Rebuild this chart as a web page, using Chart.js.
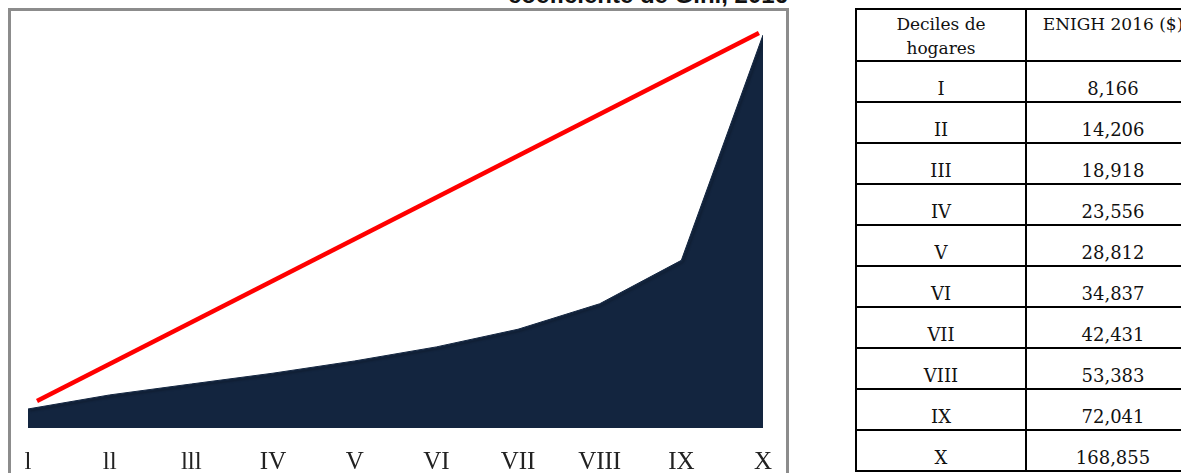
<!DOCTYPE html>
<html lang="es">
<head>
<meta charset="utf-8">
<script src="https://cdn.jsdelivr.net/npm/chart.js@4.4.1/dist/chart.umd.min.js"></script>
<style>
  html, body { margin: 0; padding: 0; background: #fff; overflow: hidden; width: 1181px; height: 473px; }
  #title {
    position: absolute; right: 393px; top: -17px;
    font: bold 24px "Liberation Sans", Arial, sans-serif; color: #111; white-space: nowrap; line-height: 1;
  }
  #frame {
    position: absolute; left: 8px; top: 8px; width: 781px; height: 520px;
    border: 3px solid #8c8c8c; box-sizing: border-box;
  }
  #wrap { position: absolute; left: 0; top: 0; width: 800px; height: 511px; }
  #tabla {
    position: absolute; left: 855px; top: 8px; width: 340px; table-layout: fixed;
    border-collapse: collapse;
    font: 18px "DejaVu Serif", "Liberation Serif", serif; color: #111;
  }
  #tabla td, #tabla th {
    border: 2px solid #000; text-align: center; font-weight: normal;
    vertical-align: bottom; padding: 0 0 3px 0; height: 36px; line-height: 18px;
  }
  #tabla th { vertical-align: top; height: 48px; padding: 2px 0 0 0; line-height: 24px; font-size: 17px; }
  #tabla .c1 { width: 168px; }
  #tabla .c2 { width: 172px; }
</style>
</head>
<body>
<div id="title">coeficiente de Gini, 2016</div>
<div id="frame"></div>
<div id="wrap"><canvas id="lorenz"></canvas></div>
<table id="tabla"></table>

<script>
// ejes y datos
const axisLabels = ['l', 'll', 'lll', 'IV', 'V', 'VI', 'VII', 'VIII', 'IX', 'X'];
const deciles = ['I', 'II', 'III', 'IV', 'V', 'VI', 'VII', 'VIII', 'IX', 'X'];
const ingreso = [8166, 14206, 18918, 23556, 28812, 34837, 42431, 53383, 72041, 168855];
// recta de igualdad (extremos)
const igualdadX = [0.11, 8.95];
const igualdadY = [11600, 169700];
const tableHeader = ['Deciles de<br>hogares', 'ENIGH 2016 ($)'];

// tabla
const tabla = document.getElementById('tabla');
let html = `<tr><th class="c1">${tableHeader[0]}</th><th class="c2">${tableHeader[1]}</th></tr>`;
deciles.forEach((d, i) => {
    html += `<tr><td>${d}</td><td>${ingreso[i].toLocaleString('en-US')}</td></tr>`;
});
tabla.innerHTML = html;

// sombra ligera para el area
const sombraArea = {
    id: 'sombraArea',
    beforeDatasetDraw(chart, args) {
        if (args.index !== 0) return;
        const ctx = chart.ctx;
        ctx.save();
        ctx.shadowColor = 'rgba(0,0,0,0.35)';
        ctx.shadowOffsetX = 2;
        ctx.shadowOffsetY = 2;
        ctx.shadowBlur = 2;
    },
    afterDatasetDraw(chart, args) {
        if (args.index !== 0) return;
        chart.ctx.restore();
    }
};

const ctx = document.getElementById('lorenz');
new Chart(ctx, {
    type: 'line',
    data: {
        datasets: [
            {
                label: 'Ingreso',
                data: ingreso.map((v, i) => ({ x: i, y: v })),
                backgroundColor: '#13253f',
                borderColor: '#13253f',
                borderWidth: 1,
                fill: 'origin',
                tension: 0,
                pointRadius: 0
            },
            {
                label: 'Igualdad',
                data: igualdadX.map((x, i) => ({ x: x, y: igualdadY[i] })),
                borderColor: '#ff0000',
                borderWidth: 4.5,
                fill: false,
                pointRadius: 0,
                borderCapStyle: 'butt'
            }
        ]
    },
    options: {
        responsive: true,
        maintainAspectRatio: false,
        animation: false,
        layout: { padding: { left: 28, right: 37, top: 20, bottom: 15 } },
        scales: {
            x: {
                type: 'linear',
                min: 0,
                max: 9,
                grid: { display: false, drawTicks: false },
                border: { display: false },
                ticks: {
                    stepSize: 1,
                    padding: 19,
                    maxRotation: 0,
                    autoSkip: false,
                    color: '#222',
                    font: { family: '"Liberation Serif", "Times New Roman", serif', size: 25 },
                    callback: v => axisLabels[v] ?? ''
                }
            },
            y: { display: false, min: 0, max: 175300 }
        },
        plugins: {
            legend: { display: false },
            tooltip: { enabled: false }
        }
    },
    plugins: [sombraArea]
});
</script>
</body>
</html>
